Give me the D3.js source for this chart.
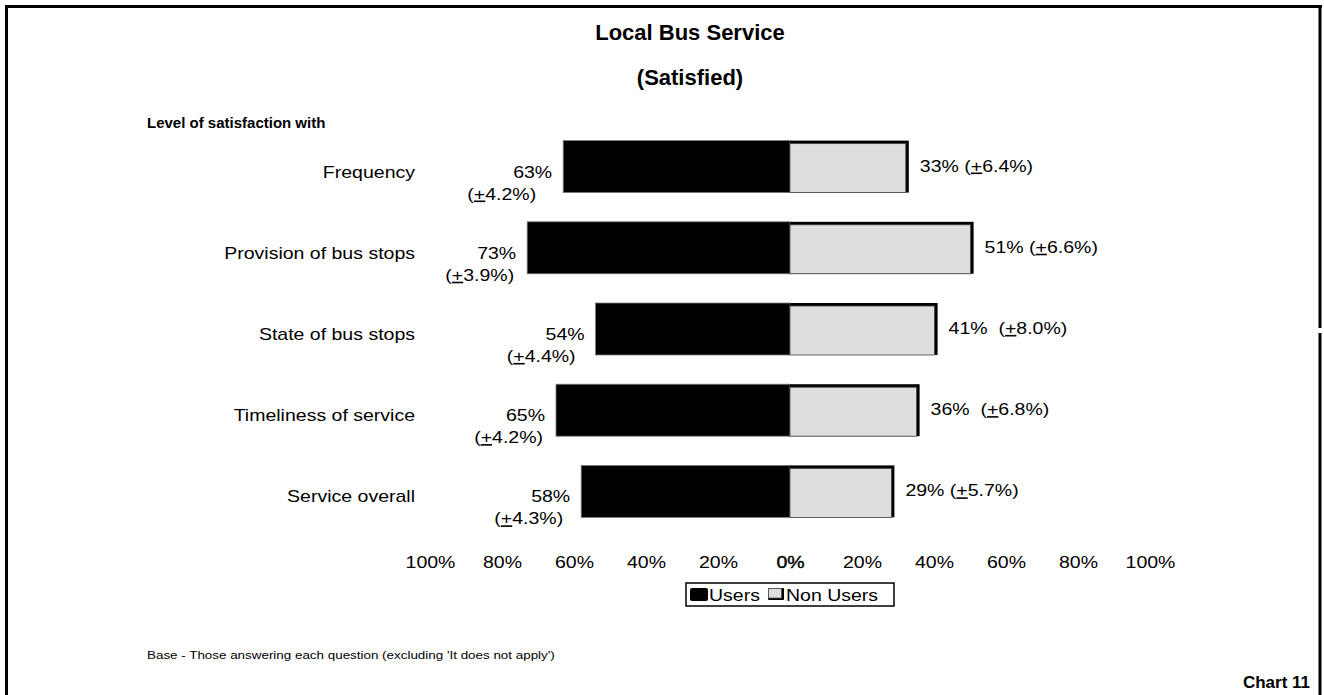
<!DOCTYPE html>
<html>
<head>
<meta charset="utf-8">
<script src="https://cdn.jsdelivr.net/npm/d3@7"></script>
<style>
  html, body { margin: 0; padding: 0; background: #fff; }
  svg { display: block; font-family: "Liberation Sans", Arial, Helvetica, sans-serif; }
  text { white-space: pre; }
</style>
</head>
<body>
<svg id="chart" width="1324" height="695"></svg>
<script>
// Satisfaction with the local bus service, users vs non users
const categories = ["Frequency", "Provision of bus stops", "State of bus stops", "Timeliness of service", "Service overall"];
const usersPct    = [63, 73, 54, 65, 58];
const usersErr    = [4.2, 3.9, 4.4, 4.2, 4.3];
const nonUsersPct = [33, 51, 41, 36, 29];
const nonUsersErr = [6.4, 6.6, 8.0, 6.8, 5.7];
const tickValues  = [-100, -80, -60, -40, -20, 0, 20, 40, 60, 80, 100];
const seriesNames = ["Users", "Non Users"];

// label layout tweaks per row
const userErrShift = [16, 2, 9, 2, 7];   // extra left shift of the (±x%) line
const nonUserGap   = [1, 1, 2, 2, 1];    // spaces between value and (±x%)

const svg = d3.select("#chart");
const FONT = 16;
const SX = 1.22;   // wide-set body text

// place a text element at (x, y) with the wide horizontal setting
function at(sel, xv, yv, sx = SX) {
  return sel.attr("transform", (d, i) => {
    const xx = typeof xv === "function" ? xv(d, i) : xv;
    const yy = typeof yv === "function" ? yv(d, i) : yv;
    return `translate(${xx},${yy}) scale(${sx},1)`;
  });
}

// outer frame (open at the bottom edge)
const frame = svg.append("g").attr("stroke", "#000").attr("stroke-width", 3);
frame.append("line").attr("x1", 5).attr("x2", 1322).attr("y1", 6.5).attr("y2", 6.5);
frame.append("line").attr("x1", 6.5).attr("x2", 6.5).attr("y1", 5).attr("y2", 695);
frame.append("line").attr("x1", 1320).attr("x2", 1320).attr("y1", 5).attr("y2", 328);
frame.append("line").attr("x1", 1320).attr("x2", 1320).attr("y1", 333).attr("y2", 695);

// titles
svg.append("text").attr("x", 690).attr("y", 40).attr("text-anchor", "middle")
  .attr("font-size", 22).attr("font-weight", "bold").text("Local Bus Service");
svg.append("text").attr("x", 690).attr("y", 85).attr("text-anchor", "middle")
  .attr("font-size", 22).attr("font-weight", "bold").text("(Satisfied)");
svg.append("text").attr("x", 147).attr("y", 128)
  .attr("font-size", 15).attr("font-weight", "bold").text("Level of satisfaction with");

// scales
const x = d3.scaleLinear().domain([-100, 100]).range([430, 1150]);
const y = d3.scaleBand().domain(categories).range([126, 532]).paddingInner(0.36).paddingOuter(0.18);
const bw = y.bandwidth();

const rows = categories.map((c, i) => ({
  cat: c, u: usersPct[i], ue: usersErr[i], n: nonUsersPct[i], ne: nonUsersErr[i], i
}));

const g = svg.append("g");

// users bars (to the left of zero)
g.selectAll("rect.users").data(rows).join("rect")
  .attr("class", "users")
  .attr("x", d => x(-d.u)).attr("y", d => y(d.cat))
  .attr("width", d => x(0) - x(-d.u)).attr("height", bw)
  .attr("fill", "#000").attr("stroke", "#777").attr("stroke-width", 0.8);

// non users bars: black shadow edge on top/right, grey face
g.selectAll("rect.nuShadow").data(rows).join("rect")
  .attr("class", "nuShadow")
  .attr("x", x(0)).attr("y", d => y(d.cat))
  .attr("width", d => x(d.n) - x(0)).attr("height", bw)
  .attr("fill", "#000");
g.selectAll("rect.nonusers").data(rows).join("rect")
  .attr("class", "nonusers")
  .attr("x", x(0)).attr("y", d => y(d.cat) + 3)
  .attr("width", d => x(d.n) - x(0) - 3).attr("height", bw - 3)
  .attr("fill", "#dedede").attr("stroke", "#444").attr("stroke-width", 0.8);

// category labels
at(g.selectAll("text.cat").data(rows).join("text").attr("class", "cat"),
   415, d => y(d.cat) + bw / 2 + 11)
  .attr("text-anchor", "end").attr("font-size", FONT)
  .text(d => d.cat);

// helper: "(+x%)" with underlined plus
function errText(sel, e) {
  sel.append("tspan").text("(");
  sel.append("tspan").attr("text-decoration", "underline").style("text-decoration", "underline").text("+");
  sel.append("tspan").text(e.toFixed(1) + "%)");
}

// users value labels
at(g.selectAll("text.uval").data(rows).join("text").attr("class", "uval"),
   d => x(-d.u) - 11, d => y(d.cat) + bw / 2 + 11)
  .attr("text-anchor", "end").attr("font-size", FONT)
  .text(d => d.u + "%");
at(g.selectAll("text.uerr").data(rows).join("text").attr("class", "uerr"),
   d => x(-d.u) - 11 - userErrShift[d.i], d => y(d.cat) + bw / 2 + 33)
  .attr("text-anchor", "end").attr("font-size", FONT)
  .each(function(d) { errText(d3.select(this), d.ue); });

// non users value labels
at(g.selectAll("text.nval").data(rows).join("text").attr("class", "nval"),
   d => x(d.n) + 11, d => y(d.cat) + bw / 2 + 5)
  .attr("font-size", FONT)
  .each(function(d) {
    const t = d3.select(this);
    t.append("tspan").text(d.n + "%" + " ".repeat(nonUserGap[d.i]));
    errText(t, d.ne);
  });

// percentage axis on both sides of zero
const axis = d3.axisBottom(x).tickValues(tickValues).tickSize(0).tickPadding(0)
  .tickFormat(v => Math.abs(v) + "%");
const ax = svg.append("g").attr("transform", "translate(0,557)").call(axis);
ax.select(".domain").remove();
ax.selectAll("text").attr("font-size", FONT).attr("font-family", "Liberation Sans, Arial, sans-serif")
  .attr("fill", "#000").attr("transform", `scale(${SX},1)`)
  .attr("stroke", v => v === 0 ? "#000" : "none").attr("stroke-width", 0.4);

// legend
const lg = svg.append("g");
lg.append("rect").attr("x", 686).attr("y", 583).attr("width", 208).attr("height", 23)
  .attr("fill", "#fff").attr("stroke", "#000").attr("stroke-width", 1.5);
lg.append("rect").attr("x", 690).attr("y", 588).attr("width", 18).attr("height", 13)
  .attr("rx", 2).attr("fill", "#000");
at(lg.append("text"), 709, 601).attr("font-size", FONT).text(seriesNames[0]);
lg.append("rect").attr("x", 768).attr("y", 588).attr("width", 16).attr("height", 12)
  .attr("rx", 1).attr("fill", "#000");
lg.append("rect").attr("x", 768.5).attr("y", 588.5).attr("width", 13).attr("height", 9.5)
  .attr("fill", "#dedede").attr("stroke", "#555").attr("stroke-width", 0.8);
at(lg.append("text"), 786, 601).attr("font-size", FONT).text(seriesNames[1]);

// footnotes
at(svg.append("text"), 147, 659).attr("font-size", 11)
  .text("Base - Those answering each question (excluding 'It does not apply')");
svg.append("text").attr("x", 1310).attr("y", 688).attr("text-anchor", "end")
  .attr("font-size", 17).attr("font-weight", "bold").text("Chart 11");
</script>
</body>
</html>
